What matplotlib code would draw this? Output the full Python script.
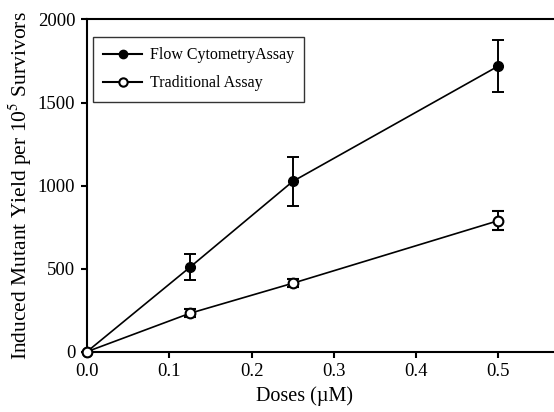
import numpy as np
import matplotlib.pyplot as plt
from matplotlib.lines import Line2D

plt.rcParams['font.family'] = ['Liberation Serif', 'DejaVu Serif']
plt.rcParams['mathtext.fontset'] = 'stix'

doses = [0.0, 0.125, 0.25, 0.5]
flow = [0, 508, 1025, 1720]
flow_err = [0, 78, 150, 158]
trad = [0, 231, 412, 789]
trad_err = [0, 25, 25, 58]
labels = ['Flow CytometryAssay', 'Traditional Assay']

fig = plt.figure(figsize=(5.54, 4.12), dpi=100)
ax = fig.add_axes([0.157, 0.1464, 0.843, 0.8063])

ax.errorbar(doses, flow, yerr=flow_err, color='black', marker='o', ms=7,
            mfc='black', lw=1.2, capsize=4.5, capthick=1.4, elinewidth=1.4,
            clip_on=False, zorder=3)
ax.errorbar(doses, trad, yerr=trad_err, color='black', marker='o', ms=7,
            mfc='white', mew=1.5, lw=1.2, capsize=4.5, capthick=1.4, elinewidth=1.4,
            clip_on=False, zorder=3)

ax.set_xlim(0, 0.5675)
ax.set_ylim(0, 2000)
ax.set_xticks([0.0, 0.1, 0.2, 0.3, 0.4, 0.5])
ax.set_yticks([0, 500, 1000, 1500, 2000])
ax.set_xticklabels(['0.0', '0.1', '0.2', '0.3', '0.4', '0.5'])
ax.spines['right'].set_visible(False)
for s in ['left', 'bottom', 'top']:
    ax.spines[s].set_linewidth(1.5)
ax.tick_params(direction='out', length=4.5, width=1.5, labelsize=13.5, pad=4)

ax.set_xlabel('Doses (µM)', fontsize=14.5)
ax.xaxis.set_label_coords(0.465, -0.105)
ax.set_ylabel('Induced Mutant Yield per 10$^{5}$ Survivors', fontsize=15.5, labelpad=3)

handles = [
    Line2D([], [], color='black', lw=1.5, marker='o', ms=6, mfc='black'),
    Line2D([], [], color='black', lw=1.5, marker='o', ms=6, mfc='white', mew=1.5),
]
leg = ax.legend(handles, labels, loc='upper left', bbox_to_anchor=(0.013, 0.947),
                borderaxespad=0, fontsize=11.5, frameon=True, fancybox=False,
                edgecolor='black', handlelength=2.4, borderpad=0.65,
                labelspacing=0.75, handletextpad=0.5)
leg.get_frame().set_linewidth(1.0)

fig.savefig('out.png', dpi=100)
